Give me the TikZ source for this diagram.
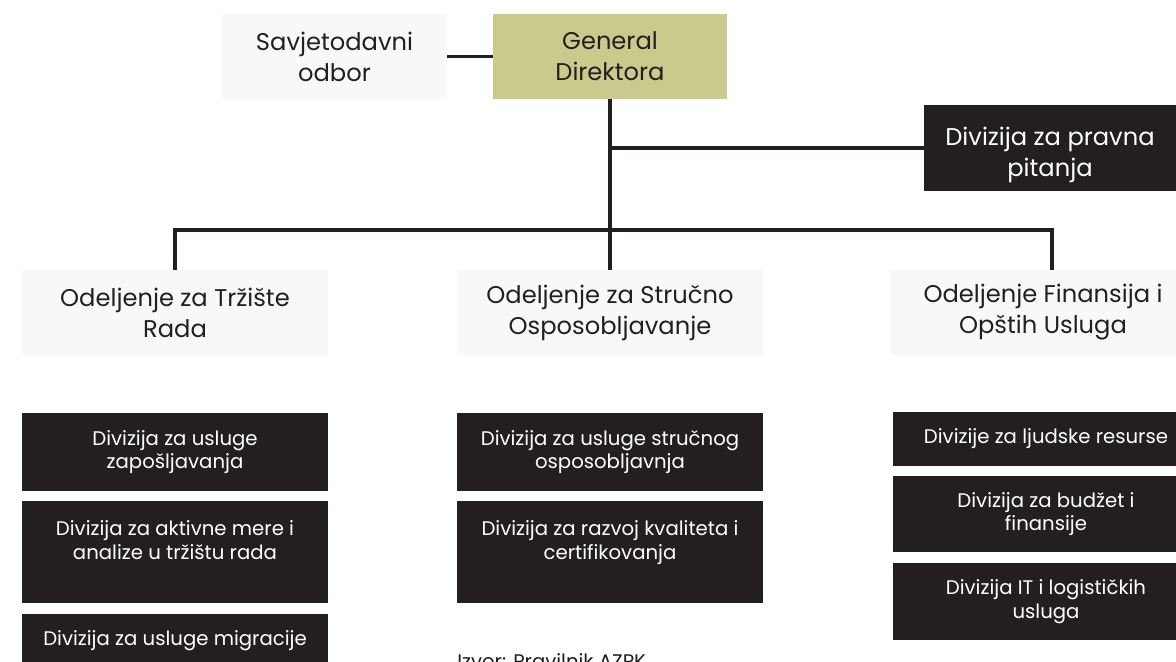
\documentclass[tikz,border=0pt]{standalone}
\usepackage{fontspec}
\setmainfont{Poppins}
\definecolor{boxdark}{HTML}{231F20}
\definecolor{boxlight}{HTML}{F7F9F8}
\definecolor{boxolive}{HTML}{C9CA8C}

\begin{document}
\begin{tikzpicture}[x=0.025cm,y=-0.025cm,
		line/.style={draw=boxdark,line width=2.5pt},
		head/.style={fill=boxlight,text=boxdark,align=center,inner sep=0pt,
			minimum width=7.65cm,minimum height=2.125cm,font=\fontsize{17.2}{22}\selectfont},
		unit/.style={fill=boxdark,text=white,align=center,inner sep=0pt,
			minimum width=7.65cm,font=\fontsize{14}{16.8}\selectfont}]
		\useasboundingbox (0,0) rectangle (1176,662);
		% Draw top level.
		\node[head,minimum width=5.625cm] (savjet) at (334.5,56.5) {Savjetodavni\\odbor};
		\node[head,fill=boxolive,minimum width=5.85cm] (general) at (610,56.5) {General\\Direktora};
		\node[head,fill=boxdark,text=white,minimum width=6.3cm] (pravna) at (1050,148) {\rule{0pt}{23pt}Divizija za pravna\\pitanja};
		% Draw departments.
		\node[head] (trziste) at (175,312.5) {Odeljenje za Tržište\\Rada};
		\node[head] (strucno) at (610,312.5) {Odeljenje za Stručno\\Osposobljavanje};
		\node[head] (finans) at (1043,312.5) {Odeljenje Finansija i\\Opštih Usluga};
		% Draw divisions.
		\node[unit,minimum height=1.95cm] (zapos) at (175,452) {Divizija za usluge\\zapošljavanja};
		\node[unit,minimum height=2.55cm] (aktiv) at (175,552) {Divizija za aktivne mere i\\analize u tržištu rada\\\mbox{}};
		\node[unit,minimum height=1.35cm] (migr) at (175,641) {Divizija za usluge migracije};
		\node[unit,minimum height=1.95cm] (obuka) at (610,452) {Divizija za usluge stručnog\\osposobljavnja};
		\node[unit,minimum height=2.55cm] (kval) at (610,552) {Divizija za razvoj kvaliteta i\\certifikovanja\\\mbox{}};
		\node[unit,minimum height=1.35cm] (ljud) at (1046,439) {Divizije za ljudske resurse};
		\node[unit,minimum height=1.9cm] (budz) at (1046,514) {Divizija za budžet i\\finansije};
		\node[unit,minimum height=1.925cm] (logis) at (1046,601.5) {Divizija IT i logističkih\\usluga};
		\node[anchor=north west,inner sep=0pt,text=boxdark,font=\fontsize{14}{16.8}\selectfont] (izvor) at (457,653) {Izvor: Pravilnik AZPK};
		% Draw connectors.
		\coordinate (busL) at (175,230);
		\coordinate (busR) at (1052,230);
		\coordinate (tap) at (610,148);
		\draw[line] (savjet) -- (general);
		\draw[line] (general) -- (strucno);
		\draw[line] (tap) -- (tap -| pravna.west);
		\draw[line] (trziste.north) -- (busL) -- (busR) -- (busR |- finans.north);
	\end{tikzpicture}
\end{document}
